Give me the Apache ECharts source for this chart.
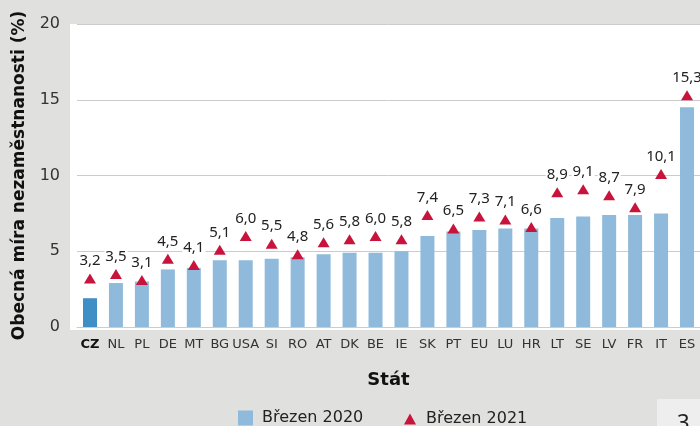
<!DOCTYPE html>
<html><head><meta charset="utf-8">
<script src="https://cdn.jsdelivr.net/npm/echarts@6/dist/echarts.min.js"></script>
<style>html,body{margin:0;padding:0;background:#e0e0df}#c{width:700px;height:426px}</style>
</head><body><div id="c"></div>
<script>
var categories = ['CZ','NL','PL','DE','MT','BG','USA','SI','RO','AT','DK','BE','IE','SK','PT','EU','LU','HR','LT','SE','LV','FR','IT','ES'];
var march2020 = [1.9,2.9,3.0,3.8,3.9,4.4,4.4,4.5,4.6,4.8,4.9,4.9,5.0,6.0,6.3,6.4,6.5,6.5,7.2,7.3,7.4,7.4,7.5,14.5];
var march2021 = [3.2,3.5,3.1,4.5,4.1,5.1,6.0,5.5,4.8,5.6,5.8,6.0,5.8,7.4,6.5,7.3,7.1,6.6,8.9,9.1,8.7,7.9,10.1,15.3];
var yTicks = [0,5,10,15,20];
var FONT = '"DejaVu Sans", sans-serif';
var LFONT = '"Noto Sans", sans-serif';
var chart = echarts.init(document.getElementById('c'));
chart.setOption({
  backgroundColor: '#e0e0df',
  animation: false,
  textStyle: {fontFamily: FONT},
  graphic: [
    {type:'rect', z:-10, shape:{x:70,y:24,width:630,height:306}, style:{fill:'#ffffff'}},
    {type:'rect', z:-10, shape:{x:657,y:399,width:43,height:27}, style:{fill:'#eeeeee'}},
    {type:'text', left:677, top:413, style:{text:'3', fontSize:22, fill:'#222', fontFamily:LFONT}}
  ],
  grid: {left:77, right:-4, top:24, bottom:99},
  legend: [
    {left:233, top:405, itemWidth:15, itemHeight:15,
     textStyle:{fontSize:16, color:'#222', padding:[0,0,0,4]},
     data:[{name:'Březen 2020', icon:'rect'}]},
    {left:399, top:406, itemWidth:12, itemHeight:11,
     textStyle:{fontSize:16, color:'#222', padding:[0,0,0,5]},
     data:[{name:'Březen 2021', icon:'triangle'}]}
  ],
  xAxis: {
    type:'category', data: categories,
    name:'Stát', nameLocation:'middle', nameGap:44,
    nameTextStyle:{fontSize:18, fontWeight:'bold', color:'#111'},
    axisLine:{lineStyle:{color:'#cccccc'}}, axisTick:{show:false},
    axisLabel:{interval:0, fontSize:13, color:'#333', margin:11,
      formatter: function(v){ return v==='CZ' ? '{b|'+v+'}' : v; },
      rich:{b:{fontWeight:'bold', fontSize:13, color:'#111'}}}
  },
  yAxis: {
    type:'value', min:0, max:20, interval:5,
    name:'Obecná míra nezaměstnanosti (%)', nameLocation:'middle', nameGap:49,
    nameTextStyle:{fontSize:17, fontWeight:'bold', color:'#111'},
    axisLabel:{fontSize:16, color:'#333', margin:17},
    splitLine:{lineStyle:{color:'#cccccc', width:1}},
    axisLine:{show:false}, axisTick:{show:false}
  },
  series: [
    {name:'Březen 2020', type:'bar', barWidth:14, z:2,
     itemStyle:{color:'#8fbadb'},
     data: march2020.map(function(v,i){ return i===0 ? {value:v, itemStyle:{color:'#3f8fc6'}} : v; })},
    {name:'Březen 2021', type:'scatter', symbol:'triangle', symbolSize:[12,10], z:3,
     itemStyle:{color:'#c8143c', opacity:1},
     label:{show:true, position:'top', distance:5, fontSize:15, color:'#222', fontFamily:LFONT,
       backgroundColor:'#ffffff', padding:[1,1,0,1],
       formatter:function(p){ return p.value.toFixed(1).replace('.', ','); }},
     data: march2021}
  ]
});
</script></body></html>
